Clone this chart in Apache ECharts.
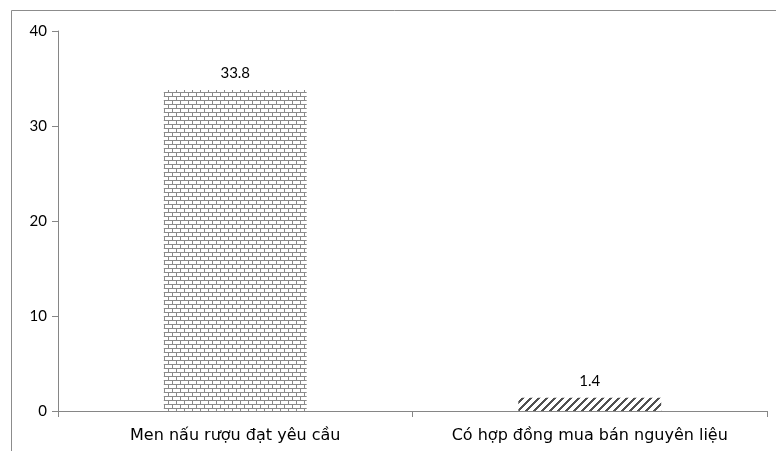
<!DOCTYPE html>
<html>
<head>
<meta charset="utf-8">
<script src="https://cdn.jsdelivr.net/npm/echarts@6/dist/echarts.min.js"></script>
<style>
  html, body { margin: 0; padding: 0; background: #fff; }
  #chart { width: 776px; height: 451px; }
</style>
</head>
<body>
<div id="chart"></div>
<script>
// Categories and values
var categories = ['Men nấu rượu đạt yêu cầu', 'Có hợp đồng mua bán nguyên liệu'];
var values = [33.8, 1.4];
var yTicks = [0, 10, 20, 30, 40];

// Horizontal brick fill
function brickPattern() {
  var c = document.createElement('canvas');
  c.width = 8; c.height = 8;
  var g = c.getContext('2d');
  g.fillStyle = '#ffffff';
  g.fillRect(0, 0, 8, 8);
  g.fillStyle = '#8a8a8a';
  g.fillRect(0, 0, 8, 1);
  g.fillRect(0, 4, 8, 1);
  g.fillRect(0, 1, 1, 3);
  g.fillRect(4, 5, 1, 3);
  return c;
}

// Wide upward diagonal fill
function hatchPattern() {
  var c = document.createElement('canvas');
  c.width = 8; c.height = 8;
  var g = c.getContext('2d');
  g.fillStyle = '#ffffff';
  g.fillRect(0, 0, 8, 8);
  g.fillStyle = '#505050';
  for (var y = 0; y < 8; y++) {
    for (var k = 0; k < 3; k++) {
      var x = (7 - y + k + 8) % 8;
      g.fillRect(x, y, 1, 1);
    }
  }
  return c;
}

var fills = [
  { image: brickPattern(), repeat: 'repeat' },
  { image: hatchPattern(), repeat: 'repeat' }
];

var chart = echarts.init(document.getElementById('chart'), null, { renderer: 'canvas' });

chart.setOption({
  animation: false,
  backgroundColor: '#ffffff',
  graphic: [{
    type: 'rect',
    shape: { x: 11.5, y: 10.5, width: 900, height: 600 },
    style: { fill: 'none', stroke: '#8c8c8c', lineWidth: 1 },
    silent: true
  }],
  grid: { left: 58, right: 9, top: 31, bottom: 40 },
  xAxis: {
    type: 'category',
    data: categories,
    boundaryGap: true,
    axisLine: { lineStyle: { color: '#868686', width: 1 } },
    axisTick: { show: true, length: 6, interval: 0, lineStyle: { color: '#868686' } },
    axisLabel: {
      interval: 0,
      color: '#000',
      fontFamily: 'DejaVu Sans',
      fontSize: 16,
      margin: 17
    }
  },
  yAxis: {
    type: 'value',
    min: 0,
    max: 40,
    interval: 10,
    splitLine: { show: false },
    axisLine: { show: true, lineStyle: { color: '#868686', width: 1 } },
    axisTick: { show: true, length: 6, lineStyle: { color: '#868686' } },
    axisLabel: {
      color: '#000',
      fontFamily: 'Lato',
      fontSize: 15,
      margin: 11,
      formatter: function (v) { return yTicks.indexOf(v) >= 0 ? String(v) : ''; }
    }
  },
  series: [{
    type: 'bar',
    barWidth: '40.3%',
    data: values.map(function (v, i) {
      return { value: v, itemStyle: { color: fills[i] } };
    }),
    label: {
      show: true,
      position: 'top',
      distance: 9,
      color: '#000',
      fontFamily: 'Lato',
      fontSize: 15,
      formatter: function (p) { return p.value.toFixed(1); }
    }
  }]
});
</script>
</body>
</html>
